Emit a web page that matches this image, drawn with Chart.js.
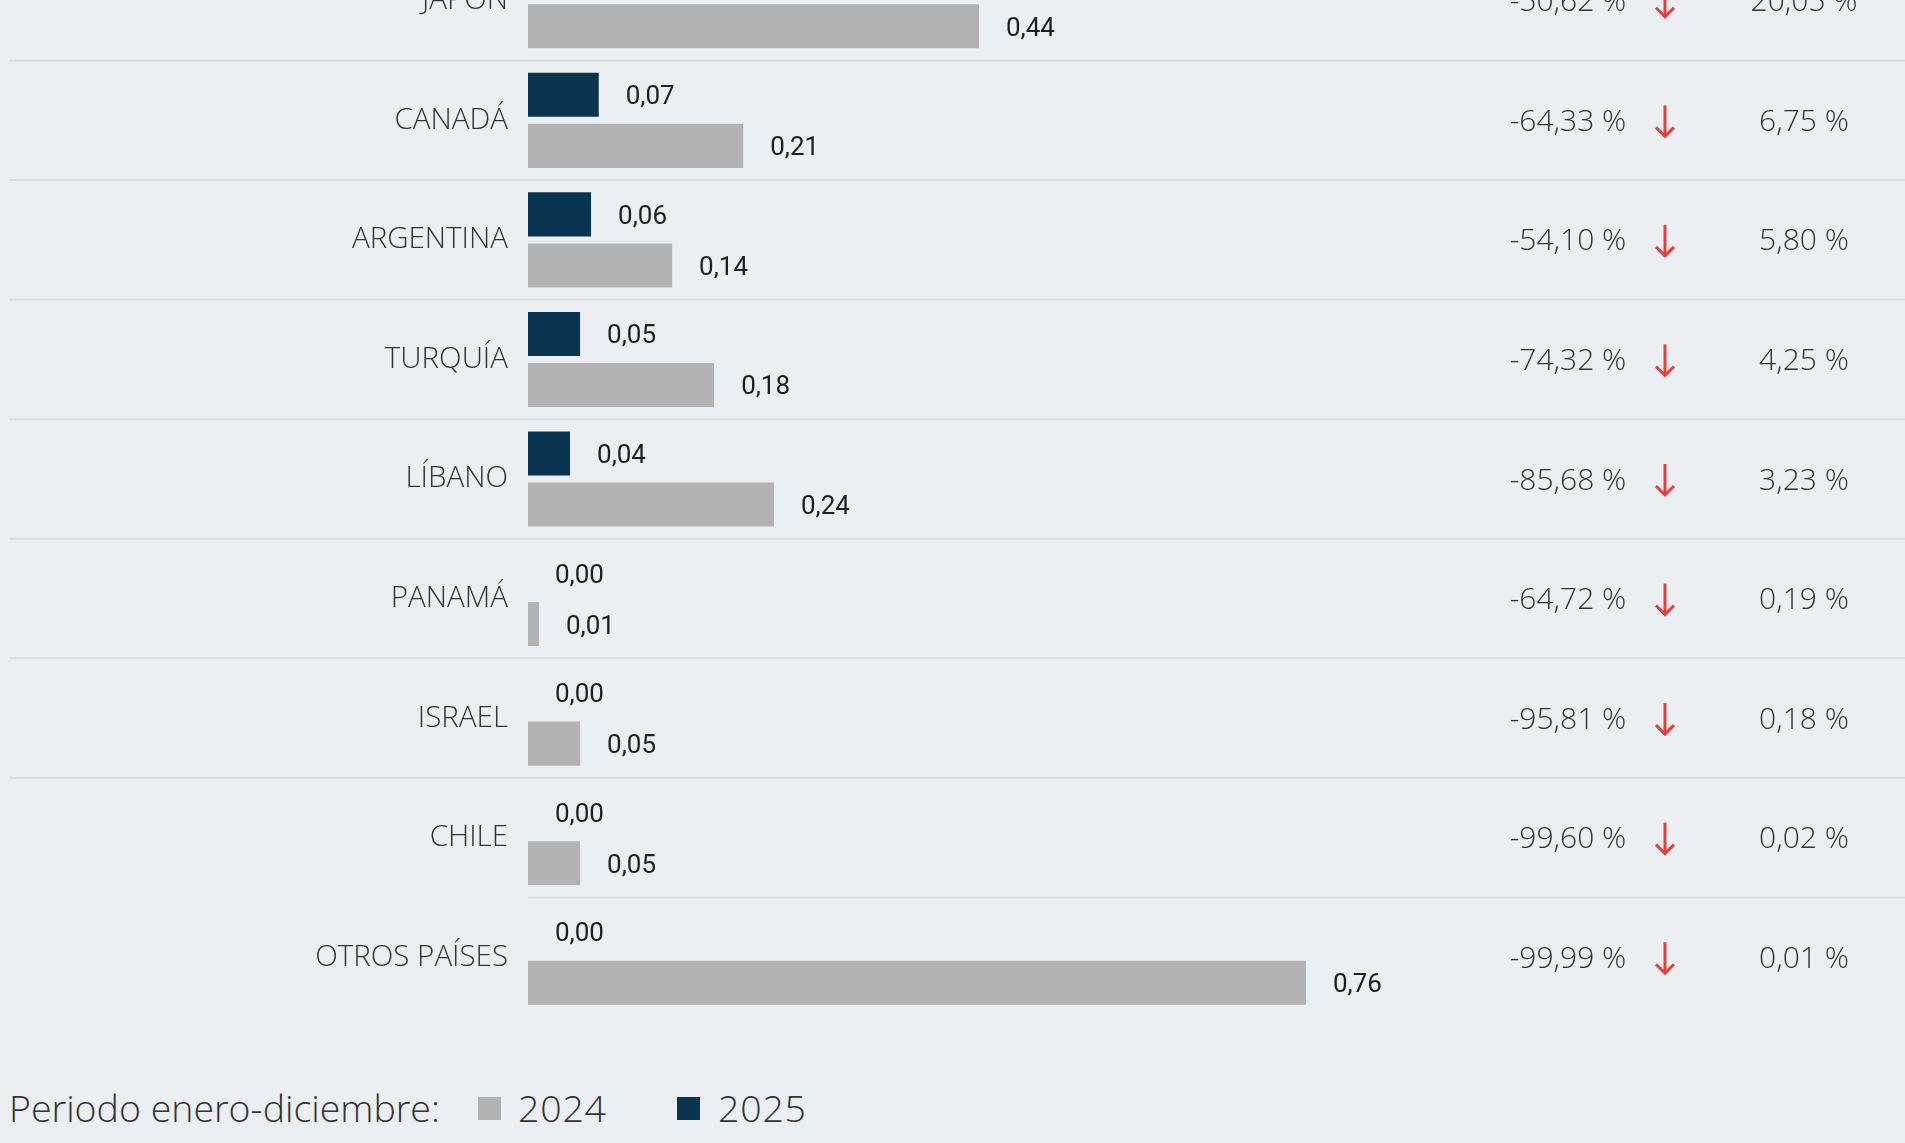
<!DOCTYPE html>
<html>
<head>
<meta charset="utf-8">
<script src="https://cdn.jsdelivr.net/npm/chart.js@4/dist/chart.umd.min.js"></script>
<style>
html,body{margin:0;padding:0;background:#ebeff2;width:1905px;height:1143px;overflow:hidden;}
#wrap{position:absolute;left:0;top:-59px;width:1905px;height:1076px;}
.lg{position:absolute;font-family:'Open Sans',sans-serif;font-weight:300;font-size:37.5px;line-height:40px;color:#333;white-space:nowrap;}
.sq{position:absolute;width:23px;height:23px;}
</style>
</head>
<body>
<div id="wrap"><canvas id="c"></canvas></div>
<div class="lg" id="ltitle" style="left:9px;top:1088px;"></div>
<div class="sq" style="left:478px;top:1097px;background:#b3b3b3;"></div>
<div class="lg" id="l2024" style="left:518px;top:1088px;letter-spacing:0.8px;"></div>
<div class="sq" style="left:677px;top:1097px;background:#0a3350;"></div>
<div class="lg" id="l2025" style="left:718px;top:1088px;letter-spacing:0.8px;"></div>
<script>
const categories = ['JAPÓN','CANADÁ','ARGENTINA','TURQUÍA','LÍBANO','PANAMÁ','ISRAEL','CHILE','OTROS PAÍSES'];
const values2025 = [0.218, 0.069, 0.0615, 0.0508, 0.041, 0, 0, 0, 0];
const values2024 = [0.44, 0.21, 0.1406, 0.1816, 0.240, 0.0107, 0.0508, 0.0508, 0.759];
const variation = [-50.62, -64.33, -54.10, -74.32, -85.68, -64.72, -95.81, -99.60, -99.99];
const share = [20.05, 6.75, 5.80, 4.25, 3.23, 0.19, 0.18, 0.02, 0.01];
const seriesNames = ['2025', '2024'];
const legendTitle = 'Periodo enero-diciembre:';

document.getElementById('ltitle').textContent = legendTitle;
document.getElementById('l2024').textContent = seriesNames[1];
document.getElementById('l2025').textContent = seriesNames[0];

const fmt = v => v.toFixed(2).replace('.', ',');

const extras = {
  id: 'extras',
  beforeDatasetsDraw(chart) {
    const ctx = chart.ctx, ca = chart.chartArea, ys = chart.scales.y;
    const n = categories.length;
    const band = (ca.bottom - ca.top) / n;
    ctx.save();
    ctx.strokeStyle = '#dcdcdc';
    ctx.lineWidth = 2;
    for (let k = 0; k < n; k++) {
      const y = ys.getPixelForValue(k) - band / 2;
      const x0 = (k === n - 1) ? ca.left : 9;
      ctx.beginPath();
      ctx.moveTo(x0, y);
      ctx.lineTo(chart.width, y);
      ctx.stroke();
    }
    ctx.restore();
  },
  afterDatasetsDraw(chart) {
    const ctx = chart.ctx, ys = chart.scales.y;
    ctx.save();
    ctx.font = '400 26px Roboto';
    ctx.fillStyle = '#1e1e1e';
    ctx.textBaseline = 'middle';
    ctx.textAlign = 'left';
    chart.data.datasets.forEach((ds, di) => {
      const meta = chart.getDatasetMeta(di);
      meta.data.forEach((bar, i) => {
        ctx.fillText(fmt(ds.data[i]), bar.x + 27, bar.y + 3);
      });
    });
    ctx.font = '300 30px "Open Sans"';
    ctx.fillStyle = '#333';
    ctx.textAlign = 'center';
    categories.forEach((c, i) => {
      const y = ys.getPixelForValue(i);
      ctx.fillText(fmt(variation[i]) + ' %', 1568, y + 2);
      ctx.fillText(fmt(share[i]) + ' %', 1804, y + 2);
      const ax = 1665;
      ctx.strokeStyle = '#e53e3e';
      ctx.lineWidth = 3;
      ctx.beginPath();
      ctx.moveTo(ax, y - 15);
      ctx.lineTo(ax, y + 16);
      ctx.stroke();
      ctx.beginPath();
      ctx.moveTo(ax - 9, y + 7);
      ctx.lineTo(ax, y + 16);
      ctx.lineTo(ax + 9, y + 7);
      ctx.stroke();
    });
    ctx.restore();
  }
};

new Chart(document.getElementById('c'), {
  type: 'bar',
  data: {
    labels: categories,
    datasets: [
      { label: seriesNames[0], data: values2025, backgroundColor: '#0a3350', categoryPercentage: 0.854, barPercentage: 0.863 },
      { label: seriesNames[1], data: values2024, backgroundColor: '#b3b3b3', categoryPercentage: 0.854, barPercentage: 0.863 }
    ]
  },
  options: {
    indexAxis: 'y',
    responsive: true,
    maintainAspectRatio: false,
    animation: false,
    layout: { padding: 0 },
    plugins: { legend: { display: false }, tooltip: { enabled: false } },
    scales: {
      x: { display: false, min: 0, max: (1905 - 528) / 1025 },
      y: {
        grid: { display: false, drawTicks: false },
        border: { display: false },
        afterFit(scale) { scale.width = 528; scale.paddingTop = 0; scale.paddingBottom = 0; },
        ticks: { padding: 20, color: '#333', font: { family: 'Open Sans', size: 29.5, weight: 300 } }
      }
    }
  },
  plugins: [extras]
});
</script>
</body>
</html>
